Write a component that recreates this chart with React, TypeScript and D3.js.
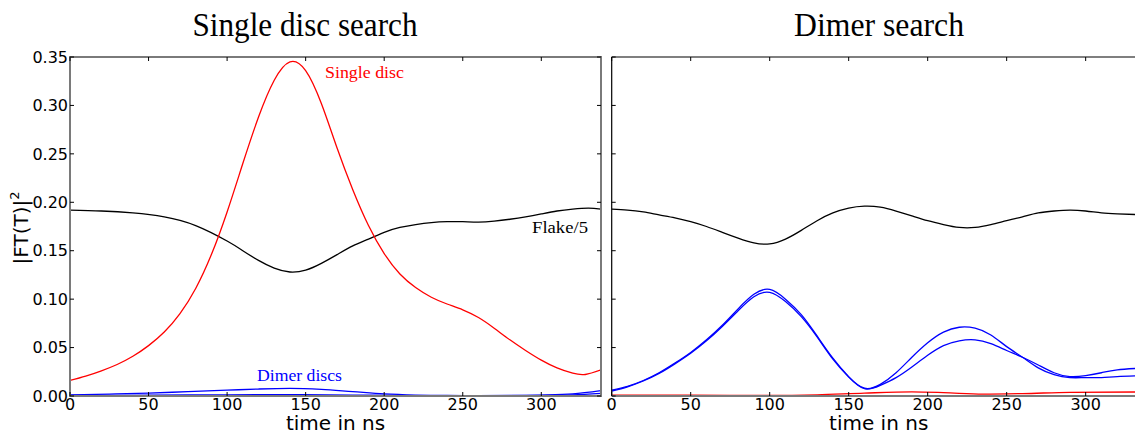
import React from 'react';
import * as d3 from 'd3';

// ---------- ticks ----------
const xTicks = [0, 50, 100, 150, 200, 250, 300];
const yTicks = [0, 0.05, 0.1, 0.15, 0.2, 0.25, 0.3, 0.35];
const yTickLabels = ['0.00', '0.05', '0.10', '0.15', '0.20', '0.25', '0.30', '0.35'];

// ---------- left panel: Single disc search ----------
const lRedT = [0, 10, 20, 30, 40, 50, 60, 70, 80, 90, 100, 110, 120, 130, 140, 150, 160, 170, 180, 190, 200, 210, 220, 230, 240, 250, 260, 270, 280, 290, 300, 310, 320, 328, 338];
const lRedV = [0.016, 0.0205, 0.026, 0.0325, 0.041, 0.052, 0.066, 0.085, 0.111, 0.146, 0.19, 0.24, 0.288, 0.326, 0.345, 0.336, 0.302, 0.256, 0.213, 0.176, 0.147, 0.126, 0.112, 0.102, 0.095, 0.089, 0.081, 0.07, 0.058, 0.047, 0.037, 0.029, 0.0235, 0.0222, 0.027];

const lBlackT = [0, 20, 40, 60, 80, 100, 110, 120, 130, 140, 150, 160, 170, 180, 190, 200, 210, 220, 230, 240, 250, 260, 270, 280, 290, 300, 310, 320, 330, 338];
const lBlackV = [0.192, 0.191, 0.189, 0.185, 0.176, 0.16, 0.15, 0.14, 0.132, 0.128, 0.13, 0.137, 0.146, 0.155, 0.162, 0.169, 0.174, 0.177, 0.179, 0.18, 0.18, 0.1795, 0.1805, 0.1825, 0.185, 0.188, 0.191, 0.193, 0.194, 0.193];

const lBlue1T = [0, 25, 50, 75, 100, 120, 140, 160, 180, 200, 220, 240, 260, 280, 300, 320, 338];
const lBlue1V = [0.0012, 0.002, 0.003, 0.0045, 0.006, 0.0072, 0.0078, 0.0068, 0.0045, 0.0022, 0.001, 0.0005, 0.0004, 0.0005, 0.001, 0.0022, 0.0055];

const lBlue2T = [0, 50, 100, 140, 180, 220, 260, 300, 320, 338];
const lBlue2V = [0.0005, 0.0008, 0.0012, 0.0014, 0.001, 0.0004, 0.0002, 0.0006, 0.0012, 0.0028];

// ---------- right panel: Dimer search ----------
const rBlackT = [0, 10, 20, 30, 40, 50, 60, 70, 80, 90, 100, 110, 120, 130, 140, 150, 160, 170, 180, 190, 200, 210, 220, 230, 240, 250, 260, 270, 280, 290, 300, 310, 320, 338];
const rBlackV = [0.193, 0.192, 0.19, 0.187, 0.184, 0.18, 0.175, 0.169, 0.163, 0.158, 0.157, 0.162, 0.171, 0.181, 0.189, 0.194, 0.196, 0.195, 0.191, 0.186, 0.181, 0.177, 0.174, 0.174, 0.177, 0.181, 0.185, 0.189, 0.191, 0.192, 0.191, 0.189, 0.188, 0.187];

const rBlueT = [0, 10, 20, 30, 40, 50, 60, 70, 80, 90, 100, 110, 120, 130, 140, 150, 160, 170, 180, 190, 200, 210, 220, 230, 240, 250, 260, 270, 280, 290, 300, 310, 320, 338];
const rBlueAV = [0.006, 0.01, 0.016, 0.024, 0.034, 0.045, 0.058, 0.073, 0.09, 0.105, 0.11, 0.1, 0.084, 0.062, 0.039, 0.02, 0.008, 0.012, 0.024, 0.04, 0.055, 0.066, 0.071, 0.07, 0.063, 0.051, 0.04, 0.029, 0.022, 0.019, 0.019, 0.019, 0.02, 0.021];
const rBlueBV = [0.005, 0.0095, 0.0155, 0.0233, 0.0332, 0.0442, 0.057, 0.0718, 0.088, 0.1025, 0.107, 0.0975, 0.082, 0.061, 0.038, 0.0195, 0.0075, 0.011, 0.019, 0.03, 0.042, 0.052, 0.057, 0.058, 0.054, 0.047, 0.04, 0.032, 0.024, 0.02, 0.021, 0.024, 0.027, 0.029];

const rRedT = [0, 50, 100, 130, 160, 190, 210, 235, 260, 290, 338];
const rRedV = [0.0008, 0.0008, 0.0005, 0.0012, 0.003, 0.0042, 0.0035, 0.002, 0.0025, 0.0038, 0.0042];

const W = 1135;
const H = 434;
const TOP = 57;
const BOTTOM = 396;

const zip = (t: number[], v: number[]) => t.map((d, i) => [d, v[i]] as [number, number]);

export default function App() {
  const y = d3.scaleLinear().domain([0, 0.35]).range([BOTTOM, TOP]);
  const xL = d3.scaleLinear().domain([0, 338]).range([70, 601]);
  const xR = d3.scaleLinear().domain([0, 338]).range([611.7, 1145.7]);

  const mkLine = (x: d3.ScaleLinear<number, number>, curve: d3.CurveFactory) =>
    d3
      .line<[number, number]>()
      .x((d) => x(d[0]))
      .y((d) => y(d[1]))
      .curve(curve);

  const lineL = mkLine(xL, d3.curveNatural);
  const lineR = mkLine(xR, d3.curveNatural);
  const lineLm = mkLine(xL, d3.curveMonotoneX);
  const lineRm = mkLine(xR, d3.curveMonotoneX);

  const tickFont = { fontFamily: 'DejaVu Sans', fontSize: 16, fill: '#000' } as const;
  const serif = 'Liberation Serif';

  const panelTicks = (x: d3.ScaleLinear<number, number>, x0: number, x1: number, key: string) => (
    <g key={key} stroke="#000" strokeWidth={1}>
      {xTicks.map((t) => (
        <g key={'x' + t}>
          <line x1={x(t)} x2={x(t)} y1={TOP} y2={TOP + 4} />
          <line x1={x(t)} x2={x(t)} y1={BOTTOM} y2={BOTTOM - 4} />
        </g>
      ))}
      {yTicks.map((t) => (
        <g key={'y' + t}>
          <line x1={x0} x2={x0 + 4} y1={y(t)} y2={y(t)} />
          <line x1={x1} x2={x1 - 4} y1={y(t)} y2={y(t)} />
        </g>
      ))}
    </g>
  );

  return (
    <div style={{ position: 'absolute', left: 0, top: 0 }}>
      <svg width={W} height={H} style={{ display: 'block', background: '#fff' }}>
        <defs>
          <clipPath id="clipL">
            <rect x={70} y={TOP} width={531} height={BOTTOM - TOP} />
          </clipPath>
          <clipPath id="clipR">
            <rect x={611.7} y={TOP} width={534} height={BOTTOM - TOP} />
          </clipPath>
        </defs>

        {/* Titles */}
        <text x={305} y={36} textAnchor="middle" fontFamily={serif} fontSize={33} textLength={225} lengthAdjust="spacingAndGlyphs">
          Single disc search
        </text>
        <text x={879} y={36} textAnchor="middle" fontFamily={serif} fontSize={33} textLength={170} lengthAdjust="spacingAndGlyphs">
          Dimer search
        </text>

        {/* Left panel lines */}
        <g clipPath="url(#clipL)" fill="none" strokeWidth={1.3}>
          <path d={lineL(zip(lBlackT, lBlackV)) || ''} stroke="#000" />
          <path d={lineLm(zip(lBlue2T, lBlue2V)) || ''} stroke="#0000ff" />
          <path d={lineLm(zip(lBlue1T, lBlue1V)) || ''} stroke="#0000ff" />
          <path d={lineL(zip(lRedT, lRedV)) || ''} stroke="#ff0000" />
        </g>

        {/* Right panel lines */}
        <g clipPath="url(#clipR)" fill="none" strokeWidth={1.3}>
          <path d={lineR(zip(rBlackT, rBlackV)) || ''} stroke="#000" />
          <path d={lineRm(zip(rRedT, rRedV)) || ''} stroke="#ff0000" />
          <path d={lineR(zip(rBlueT, rBlueAV)) || ''} stroke="#0000ff" />
          <path d={lineR(zip(rBlueT, rBlueBV)) || ''} stroke="#0000ff" />
        </g>

        {/* Frames */}
        <rect x={70} y={TOP} width={531} height={BOTTOM - TOP} fill="none" stroke="#7a7a7a" strokeWidth={2} />
        <line x1={611.7} x2={W} y1={TOP} y2={TOP} stroke="#000" strokeWidth={1.2} />
        <line x1={611.7} x2={611.7} y1={TOP} y2={BOTTOM} stroke="#000" strokeWidth={1.2} />
        <line x1={611.7} x2={W} y1={BOTTOM} y2={BOTTOM} stroke="#7a7a7a" strokeWidth={2} />

        {panelTicks(xL, 70, 601, 'tl')}
        {panelTicks(xR, 611.7, 1145.7, 'tr')}

        {/* Tick labels */}
        {yTicks.map((t, i) => (
          <text key={'yl' + t} x={68} y={y(t)} dy="0.36em" textAnchor="end" {...tickFont}>
            {yTickLabels[i]}
          </text>
        ))}
        {xTicks.map((t) => (
          <text key={'xl' + t} x={xL(t)} y={410} textAnchor="middle" {...tickFont}>
            {t}
          </text>
        ))}
        {xTicks.map((t) => (
          <text key={'xr' + t} x={xR(t)} y={410} textAnchor="middle" {...tickFont}>
            {t}
          </text>
        ))}

        {/* Axis labels */}
        <text x={335.5} y={430} textAnchor="middle" fontFamily="DejaVu Sans" fontSize={20}>
          time in ns
        </text>
        <text x={878.7} y={430} textAnchor="middle" fontFamily="DejaVu Sans" fontSize={20}>
          time in ns
        </text>
        <text transform="translate(28,228) rotate(-90)" textAnchor="middle" fontFamily="DejaVu Sans" fontSize={20}>
          |FT(T)|
          <tspan fontSize={13} dy={-9}>
            2
          </tspan>
        </text>

        {/* Annotations */}
        <text x={325} y={78} fontFamily={serif} fontSize={17} fill="#ff0000" textLength={79} lengthAdjust="spacingAndGlyphs">
          Single disc
        </text>
        <text x={532} y={233} fontFamily={serif} fontSize={17} fill="#000" textLength={56} lengthAdjust="spacingAndGlyphs">
          Flake/5
        </text>
        <text x={257} y={381} fontFamily={serif} fontSize={17} fill="#0000ff" textLength={85} lengthAdjust="spacingAndGlyphs">
          Dimer discs
        </text>
      </svg>
    </div>
  );
}
